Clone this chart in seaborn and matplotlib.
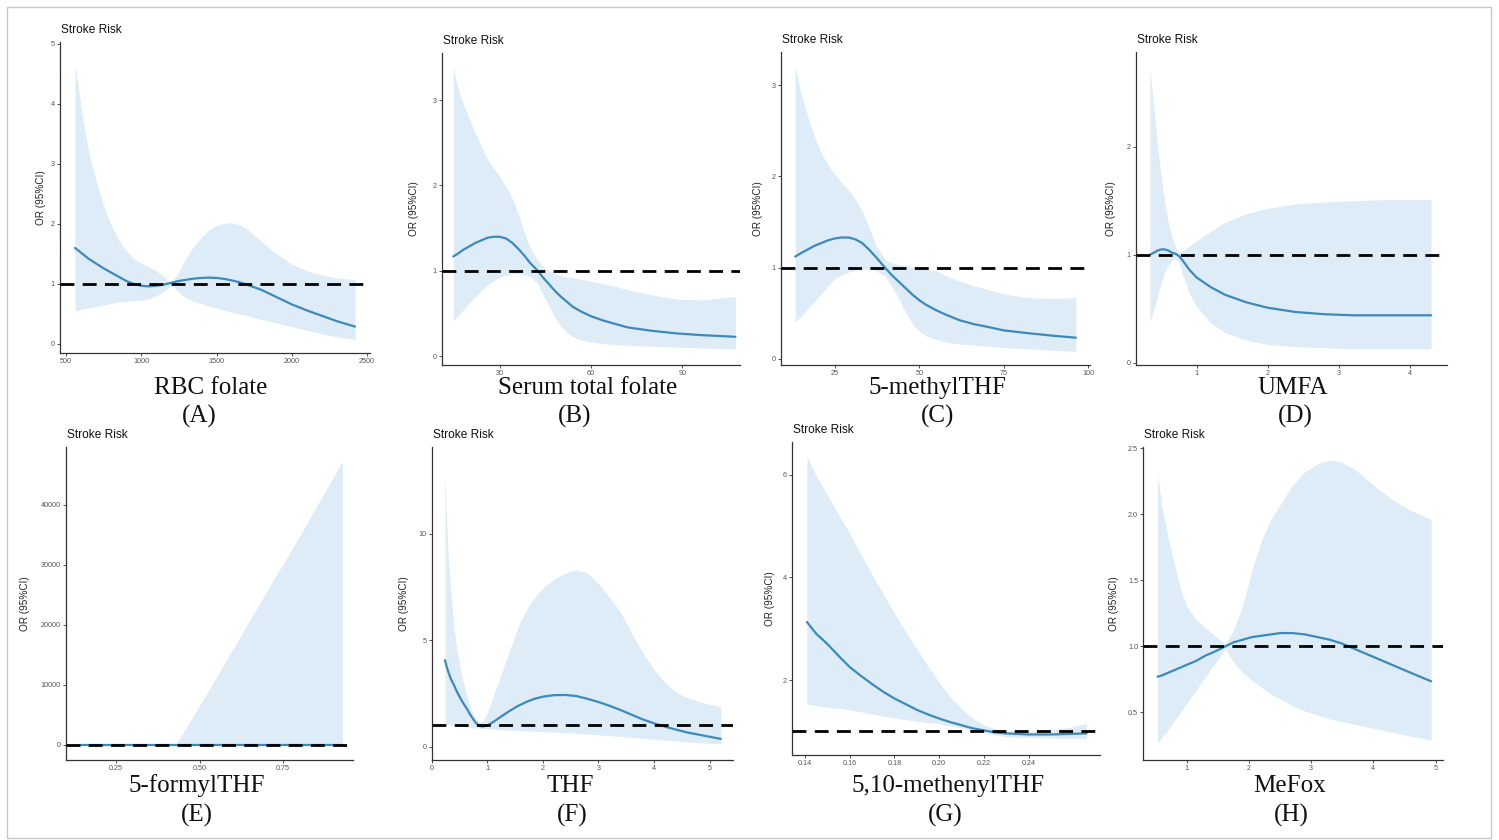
import numpy as np
import pandas as pd
import matplotlib
matplotlib.use("Agg")
import matplotlib.pyplot as plt
from matplotlib.patches import Rectangle
import seaborn as sns

# ---------------- data ----------------
# (A) RBC folate
rbc_x = [560, 580, 600, 625, 650, 675, 700, 750, 800, 850, 900, 950, 1000, 1050, 1100, 1150,
         1200, 1250, 1300, 1350, 1400, 1450, 1500, 1550, 1600, 1650, 1700, 1800, 1900, 2000,
         2100, 2200, 2300, 2420]
rbc_fit = [1.60, 1.56, 1.52, 1.47, 1.42, 1.38, 1.34, 1.26, 1.19, 1.12, 1.05, 1.0, 0.97, 0.96,
           0.97, 0.99, 1.02, 1.05, 1.07, 1.09, 1.1, 1.105, 1.1, 1.085, 1.06, 1.03, 0.99, 0.9,
           0.78, 0.66, 0.56, 0.47, 0.38, 0.29]
rbc_hi = [4.65, 4.3, 3.95, 3.55, 3.2, 2.95, 2.72, 2.3, 1.98, 1.73, 1.55, 1.42, 1.35, 1.28,
          1.22, 1.12, 1.02, 1.2, 1.45, 1.63, 1.78, 1.9, 1.97, 2.01, 2.02, 1.99, 1.92, 1.7,
          1.5, 1.33, 1.22, 1.15, 1.1, 1.07]
rbc_lo = [0.55, 0.56, 0.58, 0.59, 0.6, 0.61, 0.62, 0.65, 0.68, 0.7, 0.71, 0.72, 0.73, 0.75,
          0.8, 0.88, 0.98, 0.86, 0.76, 0.71, 0.67, 0.63, 0.6, 0.56, 0.53, 0.5, 0.48, 0.41,
          0.35, 0.29, 0.23, 0.17, 0.12, 0.08]

# (B) Serum total folate
ser_x = [14.6, 16, 18, 20, 22, 24, 26, 28, 30, 32, 34, 36, 38, 40, 42.5, 44, 46, 48, 50, 52,
         54, 57, 60, 64, 68, 72, 80, 88, 96, 107.5]
ser_fit = [1.17, 1.2, 1.25, 1.29, 1.33, 1.36, 1.39, 1.40, 1.40, 1.38, 1.33, 1.26, 1.18, 1.09,
           1.0, 0.93, 0.85, 0.77, 0.7, 0.64, 0.58, 0.52, 0.47, 0.42, 0.38, 0.34, 0.3, 0.27,
           0.25, 0.23]
ser_hi = [3.39, 3.15, 2.95, 2.77, 2.6, 2.45, 2.3, 2.2, 2.1, 1.98, 1.85, 1.67, 1.45, 1.26, 1.12,
          1.06, 1.0, 0.97, 0.95, 0.93, 0.92, 0.9, 0.88, 0.85, 0.82, 0.78, 0.72, 0.67, 0.66, 0.7]
ser_lo = [0.41, 0.47, 0.55, 0.63, 0.7, 0.77, 0.84, 0.89, 0.93, 0.95, 0.97, 0.97, 0.96, 0.93,
          0.85, 0.73, 0.6, 0.46, 0.35, 0.28, 0.23, 0.19, 0.17, 0.15, 0.14, 0.13, 0.12, 0.11,
          0.1, 0.09]

# (C) 5-methylTHF
mth_x = [13.2, 15, 17, 19, 21, 23, 25, 27, 29, 31, 33, 35, 37, 40, 42, 44, 46, 48, 50, 52,
         55, 58, 62, 66, 70, 75, 82, 90, 96.3]
mth_fit = [1.12, 1.16, 1.2, 1.24, 1.27, 1.3, 1.32, 1.33, 1.33, 1.31, 1.27, 1.2, 1.12, 0.99,
           0.91, 0.84, 0.77, 0.7, 0.64, 0.59, 0.53, 0.48, 0.42, 0.38, 0.35, 0.31, 0.28, 0.25,
           0.23]
mth_hi = [3.2, 2.9, 2.65, 2.43, 2.25, 2.12, 2.02, 1.93, 1.85, 1.75, 1.62, 1.45, 1.25, 1.08,
          1.05, 1.03, 1.02, 1.01, 1.0, 0.99, 0.96, 0.91, 0.85, 0.8, 0.76, 0.71, 0.67, 0.66, 0.67]
mth_lo = [0.4, 0.47, 0.55, 0.63, 0.72, 0.8, 0.88, 0.92, 0.95, 0.97, 0.98, 0.98, 0.97, 0.9,
          0.78, 0.65, 0.5, 0.38, 0.3, 0.25, 0.21, 0.18, 0.16, 0.15, 0.14, 0.12, 0.11, 0.09, 0.08]

# (D) UMFA
umf_x = [0.34, 0.4, 0.45, 0.5, 0.55, 0.6, 0.65, 0.7, 0.75, 0.8, 0.9, 1.0, 1.2, 1.4, 1.7,
         2.0, 2.4, 2.8, 3.2, 3.6, 4.0, 4.3]
umf_fit = [1.0, 1.02, 1.04, 1.05, 1.05, 1.04, 1.02, 1.01, 0.99, 0.95, 0.86, 0.79, 0.7, 0.63,
           0.56, 0.51, 0.47, 0.45, 0.44, 0.44, 0.44, 0.44]
umf_hi = [2.72, 2.35, 2.0, 1.72, 1.48, 1.3, 1.17, 1.07, 1.03, 1.04, 1.08, 1.13, 1.22, 1.3,
          1.38, 1.43, 1.47, 1.49, 1.5, 1.51, 1.51, 1.51]
umf_lo = [0.38, 0.5, 0.62, 0.74, 0.84, 0.91, 0.95, 0.96, 0.93, 0.82, 0.64, 0.52, 0.37, 0.28,
          0.21, 0.17, 0.15, 0.14, 0.13, 0.13, 0.13, 0.13]

# (E) 5-formylTHF
fmt_x = [0.14, 0.2, 0.3, 0.43, 0.5, 0.6, 0.7, 0.8, 0.927]
fmt_fit = [1, 1, 1, 1, 1, 1, 1, 1, 1]
fmt_hi = [0, 0, 0, 200, 6600, 16000, 25500, 34900, 47200]
fmt_lo = [0, 0, 0, 0, 0, 0, 0, 0, 0]

# (F) THF
thf_x = [0.24, 0.27, 0.3, 0.35, 0.4, 0.45, 0.5, 0.55, 0.6, 0.65, 0.7, 0.78, 0.85, 0.92, 1.0,
         1.1, 1.25, 1.4, 1.55, 1.7, 1.85, 2.0, 2.2, 2.4, 2.6, 2.8, 3.0, 3.2, 3.4, 3.6, 3.8,
         4.0, 4.2, 4.4, 4.6, 4.9, 5.2]
thf_fit = [4.06, 3.75, 3.5, 3.15, 2.9, 2.6, 2.35, 2.12, 1.92, 1.7, 1.48, 1.17, 0.98, 0.95,
           1.0, 1.15, 1.42, 1.68, 1.91, 2.1, 2.25, 2.35, 2.42, 2.43, 2.38, 2.25, 2.1, 1.92,
           1.72, 1.5, 1.28, 1.1, 0.94, 0.8, 0.67, 0.52, 0.37]
thf_hi = [12.8, 10.5, 8.8, 7.0, 5.6, 4.6, 3.9, 3.25, 2.7, 2.2, 1.8, 1.35, 1.15, 1.2, 1.6, 2.3,
          3.4, 4.5, 5.6, 6.4, 7.0, 7.45, 7.85, 8.15, 8.3, 8.15, 7.65, 7.0, 6.3, 5.3, 4.4, 3.6,
          3.0, 2.55, 2.3, 2.05, 1.88]
thf_lo = [1.1, 1.08, 1.05, 1.02, 1.0, 0.99, 0.97, 0.95, 0.93, 0.92, 0.9, 0.88, 0.87, 0.86,
          0.85, 0.83, 0.8, 0.78, 0.76, 0.74, 0.73, 0.71, 0.69, 0.66, 0.63, 0.6, 0.56, 0.52,
          0.48, 0.44, 0.4, 0.35, 0.31, 0.27, 0.23, 0.18, 0.13]

# (G) 5,10-methenylTHF
mny_x = [0.1408, 0.145, 0.15, 0.155, 0.16, 0.165, 0.17, 0.175, 0.18, 0.185, 0.19, 0.195, 0.20,
         0.205, 0.21, 0.215, 0.22, 0.225, 0.23, 0.24, 0.25, 0.258, 0.266]
mny_fit = [3.13, 2.9, 2.7, 2.47, 2.25, 2.08, 1.92, 1.77, 1.64, 1.53, 1.42, 1.33, 1.25, 1.18,
           1.12, 1.06, 1.02, 0.98, 0.96, 0.94, 0.94, 0.95, 0.96]
mny_hi = [6.35, 5.97, 5.6, 5.22, 4.85, 4.45, 4.05, 3.67, 3.3, 2.94, 2.6, 2.27, 1.95, 1.67,
          1.45, 1.25, 1.12, 1.05, 1.02, 1.0, 1.03, 1.08, 1.15]
mny_lo = [1.53, 1.5, 1.47, 1.45, 1.42, 1.38, 1.34, 1.3, 1.26, 1.23, 1.2, 1.17, 1.15, 1.11,
          1.07, 1.02, 0.97, 0.93, 0.9, 0.88, 0.87, 0.86, 0.86]

# (H) MeFox
mfx_x = [0.53, 0.6, 0.7, 0.8, 0.9, 1.0, 1.15, 1.3, 1.45, 1.62, 1.75, 1.9, 2.05, 2.2, 2.35,
         2.5, 2.7, 2.9, 3.1, 3.3, 3.5, 3.7, 4.0, 4.3, 4.6, 4.93]
mfx_fit = [0.77, 0.78, 0.8, 0.82, 0.84, 0.86, 0.89, 0.93, 0.96, 1.0, 1.03, 1.05, 1.07, 1.08,
           1.09, 1.1, 1.1, 1.09, 1.07, 1.05, 1.02, 0.98, 0.92, 0.86, 0.8, 0.735]
mfx_hi = [2.31, 2.05, 1.82, 1.62, 1.43, 1.3, 1.2, 1.14, 1.08, 1.02, 1.12, 1.31, 1.58, 1.8,
          1.96, 2.07, 2.22, 2.32, 2.38, 2.41, 2.39, 2.34, 2.22, 2.11, 2.03, 1.96]
mfx_lo = [0.27, 0.31, 0.37, 0.44, 0.5, 0.57, 0.67, 0.77, 0.87, 0.98, 0.88, 0.8, 0.74, 0.69,
          0.64, 0.6, 0.55, 0.51, 0.48, 0.45, 0.43, 0.41, 0.38, 0.35, 0.32, 0.29]

panel_names = ["RBC folate", "Serum total folate", "5-methylTHF", "UMFA",
               "5-formylTHF", "THF", "5,10-methenylTHF", "MeFox"]
panel_letters = ["(A)", "(B)", "(C)", "(D)", "(E)", "(F)", "(G)", "(H)"]

x_ticks = [[500, 1000, 1500, 2000, 2500], [30, 60, 90], [25, 50, 75, 100], [1, 2, 3, 4],
           [0.25, 0.50, 0.75], [0, 1, 2, 3, 4, 5],
           [0.14, 0.16, 0.18, 0.20, 0.22, 0.24], [1, 2, 3, 4, 5]]
x_tick_labels = [["500", "1000", "1500", "2000", "2500"], ["30", "60", "90"],
                 ["25", "50", "75", "100"], ["1", "2", "3", "4"],
                 ["0.25", "0.50", "0.75"], ["0", "1", "2", "3", "4", "5"],
                 ["0.14", "0.16", "0.18", "0.20", "0.22", "0.24"], ["1", "2", "3", "4", "5"]]
y_ticks = [[0, 1, 2, 3, 4, 5], [0, 1, 2, 3], [0, 1, 2, 3], [0, 1, 2],
           [0, 10000, 20000, 30000, 40000], [0, 5, 10], [2, 4, 6], [0.5, 1.0, 1.5, 2.0, 2.5]]
y_tick_labels = [["0", "1", "2", "3", "4", "5"], ["0", "1", "2", "3"], ["0", "1", "2", "3"],
                 ["0", "1", "2"], ["0", "10000", "20000", "30000", "40000"],
                 ["0", "5", "10"], ["2", "4", "6"], ["0.5", "1.0", "1.5", "2.0", "2.5"]]

series = [(rbc_x, rbc_fit, rbc_lo, rbc_hi), (ser_x, ser_fit, ser_lo, ser_hi),
          (mth_x, mth_fit, mth_lo, mth_hi), (umf_x, umf_fit, umf_lo, umf_hi),
          (fmt_x, fmt_fit, fmt_lo, fmt_hi), (thf_x, thf_fit, thf_lo, thf_hi),
          (mny_x, mny_fit, mny_lo, mny_hi), (mfx_x, mfx_fit, mfx_lo, mfx_hi)]

# ---------------- layout / style ----------------
W, H = 1499, 840
# axes boxes in pixels: left, right, top, bottom
boxes = [(60, 370, 42, 353), (441.7, 740, 53, 365), (781, 1090, 51.7, 365),
         (1136, 1446.7, 51.7, 365), (66, 353, 446.7, 760), (431.7, 733, 446.7, 760),
         (791.7, 1100, 441.7, 755), (1143.3, 1443, 446.7, 760)]
xlims = [(460, 2520), (10.8, 109), (9.0, 100.5), (0.146, 4.52), (0.10, 0.959),
         (0.0, 5.42), (0.134, 0.272), (0.30, 5.12)]
ylims = [(-0.15, 5.03), (-0.1, 3.55), (-0.07, 3.37), (-0.02, 2.88), (-2500, 49700),
         (-0.62, 14.07), (0.54, 6.64), (0.14, 2.51)]
ylabel_off = [14, 23, 18, 20, 36, 23, 17, 24]
name_pos = [(211, 388), (588, 388), (937, 388), (1293, 388),
            (197, 786), (570, 786), (948, 786), (1290, 786)]
letter_pos = [(199, 416), (575, 416), (938, 416), (1295, 416),
              (197, 815), (572, 815), (945, 815), (1291, 815)]

LINE = "#3d89bb"
FILL = "#ddecf7"

sns.set_theme(style="white")
plt.rcParams["font.family"] = ["Liberation Sans", "DejaVu Sans"]

fig = plt.figure(figsize=(W / 100, H / 100), dpi=100)
fig.patch.set_facecolor("white")

for i, (xs, fit, lo, hi) in enumerate(series):
    l, r, t, b = boxes[i]
    ax = fig.add_axes([l / W, 1 - b / H, (r - l) / W, (b - t) / H])
    df = pd.DataFrame({"x": xs, "fit": fit, "lo": lo, "hi": hi})
    ax.fill_between(df["x"], df["lo"], df["hi"], color=FILL, lw=0, zorder=1)
    sns.lineplot(data=df, x="x", y="fit", ax=ax, color=LINE, lw=1.6, zorder=2,
                 sort=False)
    ax.axhline(1, color="black", lw=2.0, ls=(0, (5, 3)), zorder=3)
    ax.set_xlim(*xlims[i])
    ax.set_ylim(*ylims[i])
    ax.set_xticks(x_ticks[i])
    ax.set_xticklabels(x_tick_labels[i])
    ax.set_yticks(y_ticks[i])
    ax.set_yticklabels(y_tick_labels[i])
    ax.tick_params(axis="both", which="major", labelsize=5.2, labelcolor="#555555",
                   length=2.2, width=0.6, color="#333333", pad=1.5,
                   bottom=True, left=True)
    for s in ["top", "right"]:
        ax.spines[s].set_visible(False)
    for s in ["left", "bottom"]:
        ax.spines[s].set_color("#333333")
        ax.spines[s].set_linewidth(0.9)
    ax.set_xlabel("")
    ax.set_ylabel("OR (95%CI)", fontsize=7.2, color="#222222")
    ax.yaxis.set_label_coords(-ylabel_off[i] / (r - l), 0.5)
    ax.annotate("Stroke Risk", xy=(0, 1), xycoords="axes fraction",
                xytext=(1, 12), textcoords="offset pixels", ha="left", va="center",
                fontsize=8.6, color="#111111")
    nx, ny = name_pos[i]
    fig.text(nx / W, 1 - ny / H, panel_names[i], ha="center", va="center",
             fontsize=18, family=["Liberation Serif", "DejaVu Serif"], color="#111111")
    lx, ly = letter_pos[i]
    fig.text(lx / W, 1 - ly / H, panel_letters[i], ha="center", va="center",
             fontsize=18, family=["Liberation Serif", "DejaVu Serif"], color="#111111")

fig.patches.append(Rectangle((7 / W, 2 / H), (1491 - 7) / W, (838 - 7) / H,
                             transform=fig.transFigure, fill=False,
                             edgecolor="#c8c8c8", lw=1.0))

fig.savefig("out.png", dpi=100, facecolor="white")
